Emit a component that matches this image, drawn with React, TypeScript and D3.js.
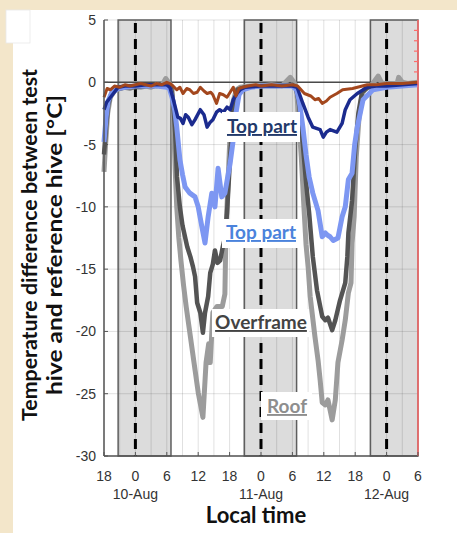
import React from 'react';
import * as d3 from 'd3';

// hours counted from 10-Aug 00:00
const roof: [number, number][] = [
  [-6, -7.2], [-5.7, -5], [-5.3, -2.5], [-4.8, -1.2], [-4, -0.7], [-3, -0.5], [-2, -0.4], [-1, -0.5], [0, -0.3],
  [1, -0.4], [2, -0.3], [3, -0.4], [4, -0.2], [5, -0.3], [5.8, 0.3], [6.5, -0.1], [7, -0.5], [7.3, -3], [7.6, -7],
  [7.9, -10], [8.3, -12.5], [8.7, -14.3], [9.2, -16.3], [9.7, -18], [10.5, -20.4], [11.2, -22.5], [12, -24.9],
  [12.9, -26.9], [13.5, -22.5], [14, -21], [14.3, -22.5], [14.8, -18.5], [15.6, -18], [16.6, -18], [17.1, -17],
  [17.3, -12], [17.7, -8], [18.1, -4], [18.7, -1.5], [19.3, -0.6], [20, -0.4], [22, -0.3], [24, -0.3], [26, -0.2],
  [28, -0.3], [29.6, 0.4], [30.3, 0], [30.8, -0.5], [31.2, -3], [31.7, -6], [32.2, -10], [32.6, -13], [33, -14.8],
  [33.4, -17.2], [34.3, -20.4], [34.9, -22.3], [35.3, -23.9], [35.7, -25.7], [36.3, -25.9], [36.8, -25.5],
  [37.6, -27.1], [38.2, -25.5], [38.7, -22.5], [39.5, -20.7], [40.1, -19.1], [40.7, -16.9], [41.2, -16.1],
  [41.4, -12.9], [41.8, -10.8], [42.2, -6], [42.7, -3], [43.3, -1], [44, -0.4], [45, -0.3], [46.4, 0.5], [47, 0],
  [48, -0.2], [50, -0.1], [50.3, 0.4], [51, 0], [52, -0.1], [54, 0],
];

const overframe: [number, number][] = [
  [-6, -5.8], [-5.6, -3.5], [-5.2, -1.8], [-4.6, -0.9], [-4, -0.6], [-2, -0.4], [0, -0.4], [2, -0.3], [4, -0.3],
  [6, -0.2], [6.8, -0.4], [7.2, -1.5], [7.6, -4], [7.95, -7.6], [8.5, -10], [9, -11.5], [9.9, -13.2], [10.5, -14],
  [11, -14.8], [11.4, -15.6], [11.8, -17.7], [12.4, -18.5], [12.9, -20.1], [13.3, -18.5], [13.9, -17.2],
  [14.3, -15.3], [14.8, -14.6], [15.2, -13.5], [15.7, -14.5], [16.2, -14.3], [16.7, -13.2], [17.1, -12.5],
  [17.5, -10.5], [18.1, -6], [18.7, -2], [19.5, -0.6], [21, -0.4], [24, -0.3], [27, -0.3], [30, -0.2], [30.7, -0.5],
  [31.2, -1.5], [31.6, -3], [32, -5], [32.6, -8], [33.2, -10.5], [33.9, -14], [34.7, -16.7], [35.7, -18.8],
  [36.3, -19.1], [36.8, -18.9], [37.6, -19.9], [38.2, -19.1], [39.1, -17.5], [40.1, -16.1], [40.5, -14],
  [40.7, -12.1], [41.4, -9.5], [42, -5.4], [42.6, -2.5], [43.3, -0.8], [44.5, -0.4], [48, -0.3], [51, -0.2], [54, -0.1],
];

const topOuter: [number, number][] = [
  [-6, -4.8], [-5.6, -2.8], [-5.2, -1.5], [-4.5, -0.8], [-3.3, -0.5], [-2, -0.4], [0, -0.3], [2, -0.3], [4, -0.3],
  [6, -0.4], [6.5, -0.5], [7, -1.2], [7.5, -2.2], [7.9, -3.6], [8.5, -6.2], [9, -7.4], [9.5, -8.4], [10.4, -8.9],
  [11.4, -9.2], [12, -10], [12.7, -11.6], [13.3, -12.9], [13.9, -10.8], [14.6, -8.9], [15.2, -10], [15.8, -6.9],
  [16.5, -9.2], [17.1, -8.9], [18.1, -6.5], [18.7, -4.6], [19.2, -2.5], [19.8, -1], [20.5, -0.6], [22, -0.4],
  [24, -0.3], [27, -0.3], [30, -0.3], [30.8, -0.6], [31.3, -1.5], [32, -3.6], [32.6, -5.8], [33.2, -7.6],
  [33.9, -8.9], [34.9, -10.3], [35.7, -12.4], [36.3, -12.1], [36.8, -12.3], [37.2, -12.4], [37.8, -12.7],
  [38.7, -12.5], [39.5, -10.8], [40.1, -10], [40.7, -7.8], [41.4, -7.3], [41.9, -5], [42.4, -3.6], [43.5, -1.4],
  [45.4, -0.6], [48, -0.4], [51, -0.3], [54, -0.2],
];

const topInner: [number, number][] = [
  [-6, -2.2], [-5.5, -1.6], [-4.2, -0.9], [-3.3, -0.4], [-2, -0.3], [0, -0.3], [2, -0.2], [4, -0.2], [6, -0.2],
  [6.6, -0.4], [7.2, -1.3], [8.1, -2.8], [8.6, -2.9], [9.1, -3.3], [9.6, -2.6], [10.1, -2.8], [10.8, -3.4],
  [11.4, -3], [12.4, -2.2], [13.1, -2.6], [13.7, -3.6], [14.3, -3.2], [14.8, -3], [15.5, -2.4], [16.1, -2.2],
  [16.8, -2.4], [17.5, -2], [18.1, -2.2], [18.7, -1.4], [19.4, -0.9], [20, -0.6], [21, -0.4], [24, -0.3], [27, -0.3],
  [30, -0.3], [30.9, -0.4], [32, -1.7], [33, -2.8], [33.9, -3.6], [35.3, -3.8], [35.9, -4.4], [36.5, -4],
  [37.2, -3.8], [38.5, -4], [39.5, -3.3], [40.1, -2.2], [41, -1.4], [42.4, -0.9], [44.3, -0.4], [46, -0.3],
  [48, -0.3], [51, -0.2], [54, -0.1],
];

const brown: [number, number][] = [
  [-6, -1.2], [-5.4, -0.5], [-4.8, -0.6], [-4, -0.3], [-3, -0.4], [-2, -0.2], [-1, -0.3], [0, -0.2], [1, -0.1],
  [2, -0.2], [3, -0.3], [4, -0.1], [5, -0.2], [6, 0], [6.6, -0.1], [7.2, -0.3], [7.9, -0.6], [8.5, -0.4],
  [9.1, -0.9], [9.8, -0.5], [10.4, -0.6], [11.1, -0.9], [11.8, -0.8], [12.4, -0.4], [13.1, -0.7], [13.7, -0.9],
  [14.4, -0.8], [14.8, -1], [15.5, -1.7], [16.1, -0.9], [16.8, -1], [17.5, -1.2], [18.1, -0.8], [18.7, -0.4],
  [19.2, -1.1], [19.8, -0.5], [20.5, -0.4], [21.5, -0.3], [23, -0.2], [24, -0.3], [26, -0.2], [28, -0.3], [30, -0.2],
  [31, -0.3], [32.3, -0.9], [33.5, -1.1], [34.3, -1.4], [35, -1.3], [35.7, -1.7], [36.5, -1.5], [37.2, -1.2],
  [38.5, -0.9], [39.6, -0.6], [41.5, -0.5], [44.3, -0.2], [46, -0.2], [48, -0.1], [51, -0.1], [54, 0],
];

const nights: [number, number][] = [[-3.3, 6.8], [20.8, 30.8], [44.9, 54]];
const midnights = [0, 24, 48];
const dateLabels = ['10-Aug', '11-Aug', '12-Aug'];
const yTicks = [5, 0, -5, -10, -15, -20, -25, -30];

const series = [
  { data: roof, color: '#9c9c9c', width: 5 },
  { data: overframe, color: '#545454', width: 4.5 },
  { data: topOuter, color: '#7d97f2', width: 5 },
  { data: topInner, color: '#1b2b8e', width: 3.5 },
  { data: brown, color: '#a3471d', width: 3 },
];

const labels = [
  { text: 'Top part', x: 262, y: 133, color: '#22396a', box: [222, 112, 78, 30] },
  { text: 'Top part', x: 261, y: 239, color: '#4b83dc', box: [222, 219, 78, 29] },
  { text: 'Overframe', x: 261, y: 329, color: '#434343', box: [212, 309, 97, 28] },
  { text: 'Roof', x: 287, y: 413, color: '#8e8e8e', box: [261, 392, 51, 28] },
];

export default function App() {
  const x = d3.scaleLinear().domain([-6, 54]).range([104, 418]);
  const y = d3.scaleLinear().domain([-30, 5]).range([456, 20]);
  const right = d3.scaleLinear().domain([0, 6]).range([y(0), y(5)]);
  const line = d3.line<[number, number]>().x(d => x(d[0])).y(d => y(d[1]));
  const grid3 = d3.range(-6, 55, 3);
  const hourTicks = d3.range(-6, 55, 6);
  const tickFont = '"Liberation Sans", Arial, sans-serif';
  const labelFont = 'Lato, "Open Sans", sans-serif';

  return (
    <svg width={457} height={533} style={{ position: 'absolute', left: 0, top: 0 }}>
      <rect width={457} height={533} fill="#f3e6ca" />
      <rect x={13} y={10} width={444} height={523} fill="#fff" />
      <rect x={6} y={10} width={24} height={33} fill="#fff" stroke="#e8e8e8" strokeWidth={0.8} />

      {nights.map(([a, b], i) => (
        <rect key={i} x={x(a)} y={y(5)} width={x(b) - x(a)} height={y(-30) - y(5)} fill="#dcdcdc" />
      ))}
      {grid3.map(h => (
        <line key={'v' + h} x1={x(h)} x2={x(h)} y1={y(5)} y2={y(-30)} stroke="#000" strokeOpacity={0.12} />
      ))}
      {yTicks.map(v => (
        <line key={'h' + v} x1={x(-6)} x2={x(54)} y1={y(v)} y2={y(v)} stroke="#000" strokeOpacity={0.12} />
      ))}
      {nights.map(([a, b], i) => (
        <rect key={'b' + i} x={x(a)} y={y(5)} width={x(b) - x(a)} height={y(-30) - y(5)} fill="none"
          stroke="#5e5e5e" strokeWidth={1.5} />
      ))}
      {midnights.map(h => (
        <line key={'m' + h} x1={x(h)} x2={x(h)} y1={y(5) + 3} y2={y(-30)} stroke="#000" strokeWidth={3}
          strokeDasharray="10,6" />
      ))}
      <line x1={x(-6)} x2={x(54)} y1={y(0)} y2={y(0)} stroke="#4a4a4a" strokeWidth={1.5} />

      {series.map((s, i) => (
        <path key={i} d={line(s.data) || ''} fill="none" stroke={s.color} strokeWidth={s.width}
          strokeLinejoin="round" />
      ))}

      {labels.map((l, i) => (
        <g key={'l' + i}>
          <rect x={l.box[0]} y={l.box[1]} width={l.box[2]} height={l.box[3]} fill="#fff" />
          <text x={l.x} y={l.y} fill={l.color} fontFamily={labelFont} fontWeight="bold" fontSize={19}
            textAnchor="middle" textDecoration="underline">{l.text}</text>
        </g>
      ))}

      {/* axes */}
      <line x1={x(-6)} x2={x(-6)} y1={y(5)} y2={y(-30)} stroke="#555" strokeWidth={1.5} />
      <line x1={x(-6)} x2={x(54)} y1={y(-30)} y2={y(-30)} stroke="#555" strokeWidth={1.5} />
      <line x1={x(54)} x2={x(54)} y1={y(5)} y2={y(-30)} stroke="#ff6b6b" strokeWidth={1.5} />
      {d3.range(1, 6).map(t => (
        <line key={'r' + t} x1={x(54) - 4} x2={x(54)} y1={right(t)} y2={right(t)} stroke="#ff6b6b" strokeWidth={1.2} />
      ))}
      {yTicks.map(v => (
        <g key={'yt' + v}>
          <line x1={x(-6)} x2={x(-6) + 4} y1={y(v)} y2={y(v)} stroke="#555" />
          <text x={96} y={y(v)} dy="0.36em" textAnchor="end" fontFamily={tickFont} fontSize={14} fill="#333">{v}</text>
        </g>
      ))}
      {hourTicks.map(h => (
        <g key={'xt' + h}>
          <line x1={x(h)} x2={x(h)} y1={y(-30)} y2={y(-30) - 4} stroke="#555" />
          <text x={x(h)} y={481} textAnchor="middle" fontFamily={tickFont} fontSize={14} fill="#333">
            {((h % 24) + 24) % 24}
          </text>
        </g>
      ))}
      {midnights.map((h, i) => (
        <text key={'d' + h} x={x(h)} y={499} textAnchor="middle" fontFamily={tickFont} fontSize={14} fill="#333">
          {dateLabels[i]}
        </text>
      ))}
      <text x={256} y={523} textAnchor="middle" fontFamily={labelFont} fontWeight="bold" fontSize={22} fill="#111">
        Local time
      </text>
      <g transform="translate(37,245) rotate(-90)">
        <text x={0} y={0} textAnchor="middle" fontFamily={labelFont} fontWeight="bold" fontSize={21} fill="#111"
          textLength={352} lengthAdjust="spacingAndGlyphs">
          Temperature difference between test
        </text>
        <text x={0} y={25} textAnchor="middle" fontFamily={labelFont} fontWeight="bold" fontSize={21} fill="#111"
          textLength={300} lengthAdjust="spacingAndGlyphs">
          hive and reference hive [°C]
        </text>
      </g>
    </svg>
  );
}
